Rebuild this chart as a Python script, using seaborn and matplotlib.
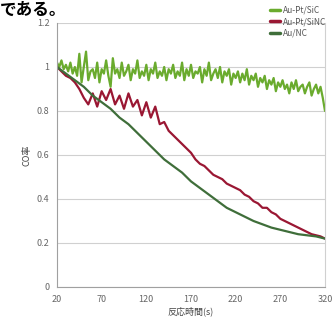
import numpy as np
import pandas as pd
import matplotlib
matplotlib.use("Agg")
import matplotlib.pyplot as plt
import seaborn as sns

series_names = ["Au-Pt/SiC", "Au-Pt/SiNC", "Au/NC"]
colors = ["#6aab2e", "#9a1733", "#3f6e3a"]

x_green = [20 + 2.5 * i for i in range(121)]
y_green = [1.02,1.00,1.03,0.99,1.01,0.98,1.02,0.97,1.00,0.96,
           1.06,0.93,1.00,1.07,0.94,0.98,0.99,0.95,1.02,0.93,
           0.99,0.97,1.03,0.96,0.91,1.04,0.97,0.99,0.95,1.02,
           0.96,0.98,1.01,0.94,0.99,0.97,1.03,0.95,0.98,0.96,
           1.01,0.94,0.99,0.97,1.02,0.95,0.98,0.96,1.00,0.94,
           0.99,0.97,1.01,0.95,0.98,0.96,1.02,0.94,0.99,0.96,
           1.01,0.95,0.98,0.97,1.00,0.93,0.99,0.96,1.02,0.94,
           0.97,0.99,0.95,1.00,0.93,0.98,0.96,0.99,0.92,0.97,
           0.95,0.98,0.93,0.97,0.94,0.99,0.92,0.96,0.94,0.97,
           0.91,0.95,0.93,0.96,0.90,0.94,0.92,0.95,0.89,0.93,
           0.91,0.94,0.90,0.92,0.88,0.93,0.90,0.94,0.89,0.91,
           0.92,0.88,0.91,0.93,0.87,0.90,0.92,0.88,0.91,0.86,0.80]

x_red = [20 + 5 * i for i in range(61)]
y_red = [1.00,0.98,0.96,0.95,0.93,0.90,0.86,0.83,0.88,0.82,
         0.89,0.85,0.90,0.83,0.87,0.81,0.88,0.82,0.85,0.78,
         0.84,0.77,0.82,0.74,0.75,0.71,0.69,0.67,0.65,0.63,
         0.61,0.58,0.56,0.55,0.53,0.51,0.50,0.49,0.47,0.46,
         0.45,0.44,0.42,0.41,0.39,0.38,0.36,0.36,0.34,0.33,
         0.31,0.30,0.29,0.28,0.27,0.26,0.25,0.24,0.235,0.23,0.22]

x_dark = [20 + 10 * i for i in range(31)]
y_dark = [1.00,0.97,0.94,0.91,0.87,0.84,0.81,0.77,0.74,0.70,
          0.66,0.62,0.58,0.55,0.52,0.48,0.45,0.42,0.39,0.36,
          0.34,0.32,0.30,0.285,0.27,0.26,0.25,0.24,0.235,0.23,0.22]

x_ticks = [20, 70, 120, 170, 220, 270, 320]
y_ticks = [0, 0.2, 0.4, 0.6, 0.8, 1, 1.2]
y_tick_labels = ["0", "0.2", "0.4", "0.6", "0.8", "1", "1.2"]

df = pd.concat([
    pd.DataFrame({"t": x_green, "v": y_green, "s": series_names[0]}),
    pd.DataFrame({"t": x_red, "v": y_red, "s": series_names[1]}),
    pd.DataFrame({"t": x_dark, "v": y_dark, "s": series_names[2]}),
])

sns.set_style("white")
plt.rcParams["font.family"] = ["Noto Sans CJK JP", "DejaVu Sans"]

fig = plt.figure(figsize=(3.32, 3.25), dpi=100)
ax = fig.add_axes([57/332, 1 - 287/325, (325 - 57)/332, (287 - 23)/325])

sns.lineplot(data=df, x="t", y="v", hue="s", palette=colors, hue_order=series_names,
             linewidth=1.6, ax=ax, legend=True)

ax.set_xlim(20, 320)
ax.set_ylim(0, 1.2)
ax.set_xticks(x_ticks)
ax.set_xticklabels([str(v) for v in x_ticks])
ax.set_yticks(y_ticks)
ax.set_yticklabels(y_tick_labels)
ax.grid(axis="y", color="#d0d0d0", linewidth=0.8)
ax.set_axisbelow(True)
ax.spines["top"].set_visible(False)
ax.spines["right"].set_color("#d0d0d0")
ax.spines["right"].set_linewidth(0.8)
for side in ["left", "bottom"]:
    ax.spines[side].set_color("#a0a0a0")
    ax.spines[side].set_linewidth(0.8)
ax.tick_params(axis="both", labelsize=6.5, colors="#666666", length=2, width=0.6)
ax.set_xlabel("反応時間(s)", fontsize=6.5, color="#444444", labelpad=2)
ax.set_ylabel("CO率", fontsize=6.5, color="#444444", labelpad=4)

leg = ax.legend(loc="upper right", bbox_to_anchor=(1.0, 1.0), bbox_transform=fig.transFigure,
                fontsize=6, frameon=False, handlelength=1.2, handletextpad=0.3,
                labelspacing=0.3, borderaxespad=0.3)
for t in leg.get_texts():
    t.set_color("#555555")
for l in leg.get_lines():
    l.set_linewidth(2.5)

fig.text(0.0, 0.998, "である。", fontsize=12, color="black", va="top", ha="left",
         fontweight="bold")

fig.savefig("out.png", dpi=100)
